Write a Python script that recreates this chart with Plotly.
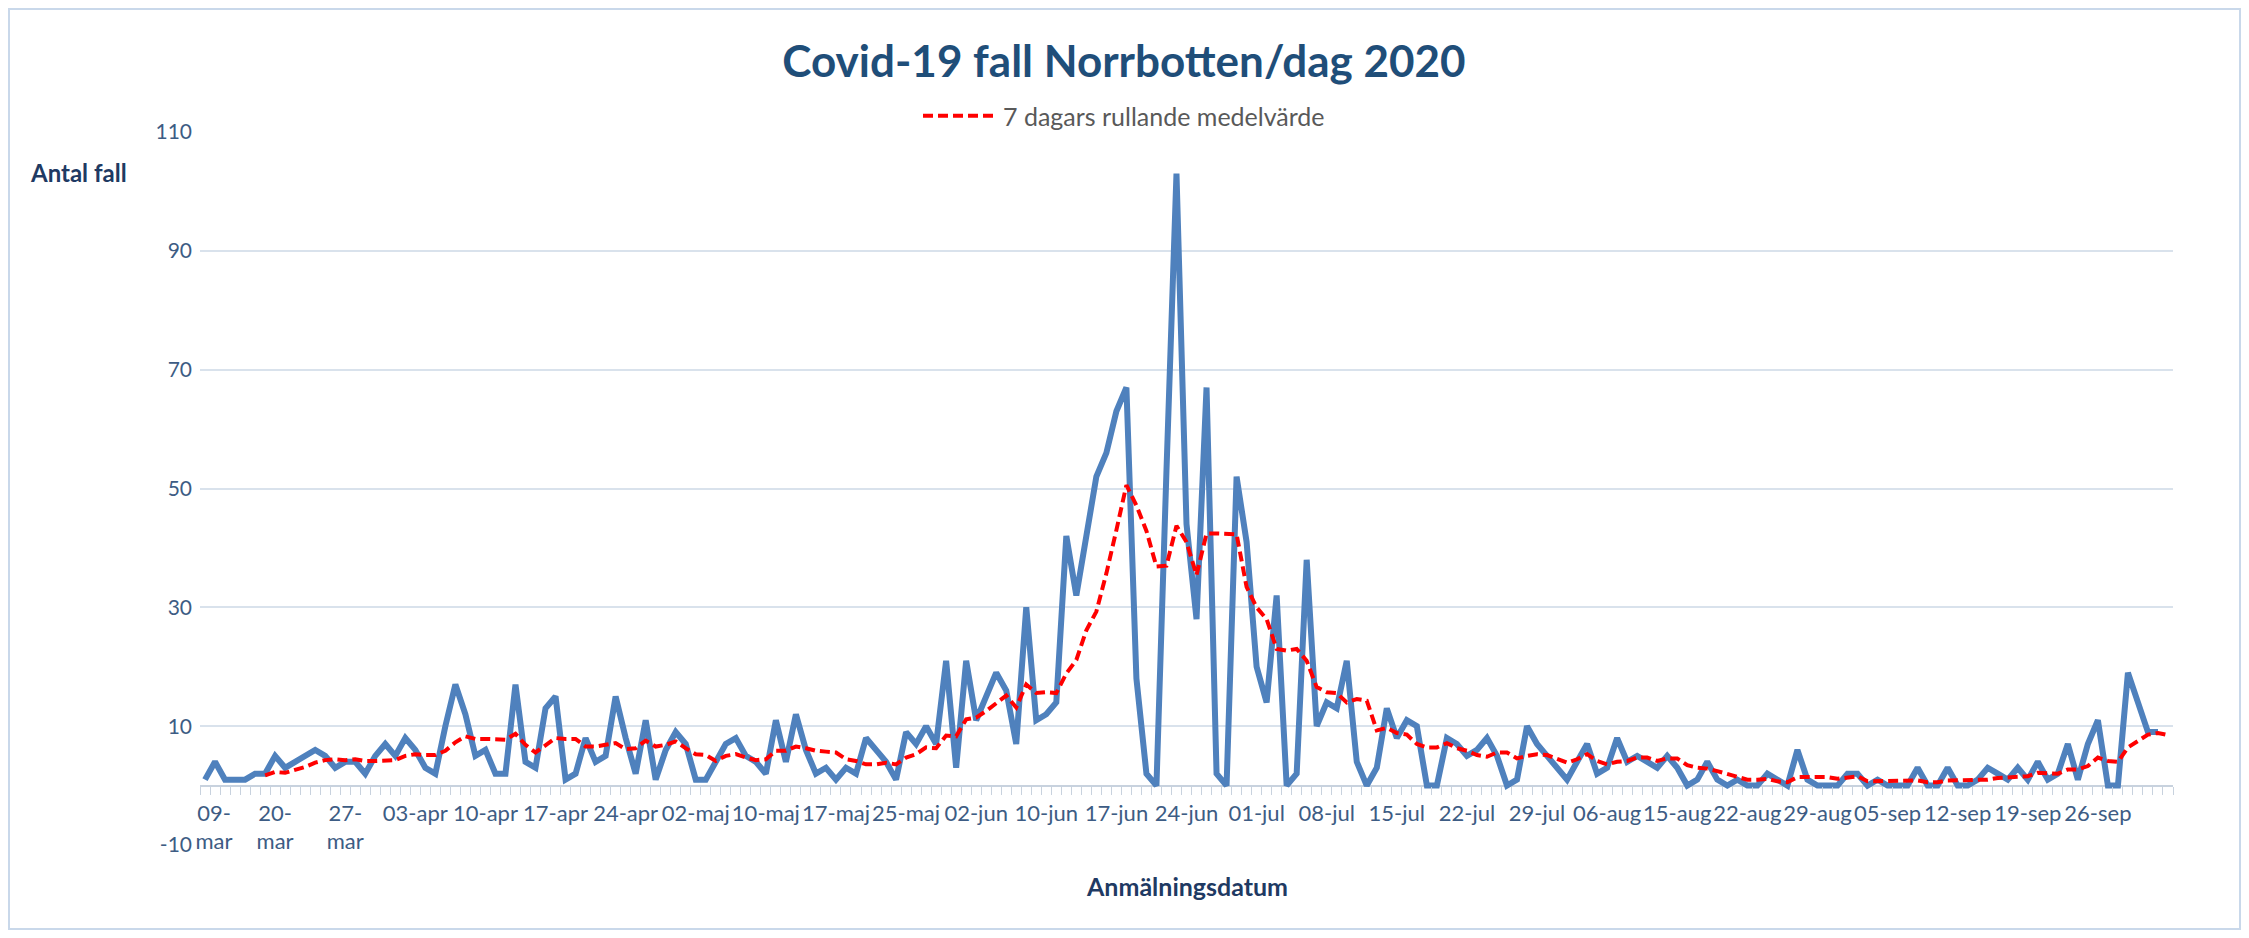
import plotly.graph_objects as go
import pandas as pd

# The page body adds an 8 px margin, so the figure is drawn 8 px in from the
# window edge; everything below is laid out in window pixels minus that offset.
PAGE_W, PAGE_H = 2249, 938
OFF = 8
W, H = PAGE_W - 2 * OFF, PAGE_H - 2 * OFF

# Daily reported cases (Norrbotten); the last date is blank
cases = [
    1, 4, 1, 1, 1, 2, 2, 5, 3, 4,
    5, 6, 5, 3, 4, 4, 2, 5, 7, 5,
    8, 6, 3, 2, 10, 17, 12, 5, 6, 2,
    2, 17, 4, 3, 13, 15, 1, 2, 8, 4,
    5, 15, 8, 2, 11, 1, 6, 9, 7, 1,
    1, 4, 7, 8, 5, 4, 2, 11, 4, 12,
    6, 2, 3, 1, 3, 2, 8, 6, 4, 1,
    9, 7, 10, 7, 21, 3, 21, 11, 15, 19,
    16, 7, 30, 11, 12, 14, 42, 32, 42, 52,
    56, 63, 67, 18, 2, 0, 53, 103, 44, 28,
    67, 2, 0, 52, 41, 20, 14, 32, 0, 2,
    38, 10, 14, 13, 21, 4, 0, 3, 13, 8,
    11, 10, 0, 0, 8, 7, 5, 6, 8, 5,
    0, 1, 10, 7, 5, 3, 1, 4, 7, 2,
    3, 8, 4, 5, 4, 3, 5, 3, 0, 1,
    4, 1, 0, 1, 0, 0, 2, 1, 0, 6,
    1, 0, 0, 0, 2, 2, 0, 1, 0, 0,
    0, 3, 0, 0, 3, 0, 0, 1, 3, 2,
    1, 3, 1, 4, 1, 2, 7, 1, 7, 11,
    0, 0, 19, 14, 9, 9, None,
]

# Category-axis labels (one label per 7 categories, as in the original)
tick_labels = [
    "09-<br>mar", "20-<br>mar", "27-<br>mar", "03-apr", "10-apr", "17-apr", "24-apr",
    "02-maj", "10-maj", "17-maj", "25-maj", "02-jun", "10-jun", "17-jun",
    "24-jun", "01-jul", "08-jul", "15-jul", "22-jul", "29-jul", "06-aug",
    "15-aug", "22-aug", "29-aug", "05-sep", "12-sep", "19-sep", "26-sep",
]
label_step = 7
ma_window = 7

title_text = "Covid-19 fall Norrbotten/dag 2020"
ma_name = "7 dagars rullande medelvärde"
y_title = "Antal fall"
x_title = "Anmälningsdatum"

y_min, y_max, y_step = -10, 110, 20
y_ticks = list(range(y_min, y_max + 1, y_step))

n = len(cases)
x = list(range(n))
s = pd.Series(cases, dtype=float)
ma = s.rolling(ma_window, min_periods=1).mean()   # blanks ignored, like AVERAGE
ma.iloc[:ma_window - 1] = float("nan")

# label positions; like the original, the first (wrapped) label is nudged
# right so it clears the "-10" axis label
tick_pos = [float(v) for v in range(0, n, label_step)][:len(tick_labels)]
tick_pos[0] += 0.9

# plot area in window pixels
P_LEFT, P_RIGHT, P_TOP, P_BOTTOM = 200, 2173, 132, 845
ML = P_LEFT - OFF
MR = W - (P_RIGHT - OFF)
MT = P_TOP - OFF
MB = H - (P_BOTTOM - OFF)
PW = W - ML - MR
PH = H - MT - MB


def paper_x(px):
    return (px - OFF - ML) / PW


def paper_y(py):
    return (H - MB - (py - OFF)) / PH


def cont_y(py):
    return 1 - (py - OFF) / H


FONT = "Lato, Open Sans, sans-serif"
TICK_COLOR = "#3D5C84"
DARK = "#1F3A63"

fig = go.Figure()
fig.add_trace(go.Scatter(
    x=x, y=cases, mode="lines", name="Antal fall",
    line=dict(color="#4F81BD", width=6),
    showlegend=False, connectgaps=False,
))
fig.add_trace(go.Scatter(
    x=x, y=ma, mode="lines", name=ma_name,
    line=dict(color="#FF0000", width=4, dash="10px,5px"),
))

fig.update_layout(
    width=W, height=H,
    margin=dict(l=ML, r=MR, t=MT, b=MB, autoexpand=False),
    paper_bgcolor="white", plot_bgcolor="white",
    title=dict(
        text=f"<b>{title_text}</b>", x=(1124 - OFF) / W, xref="container",
        xanchor="center", y=cont_y(62), yref="container", yanchor="middle",
        font=dict(family=FONT, size=44, color="#1F4E79"),
    ),
    legend=dict(
        orientation="h", x=(1124 - OFF) / W, xref="container", xanchor="center",
        y=cont_y(116), yref="container", yanchor="middle",
        font=dict(family=FONT, size=25, color="#595959"),
        bgcolor="rgba(0,0,0,0)", itemwidth=75,
    ),
    xaxis=dict(
        range=[-0.5, n - 0.5],
        tickmode="array",
        tickvals=tick_pos,
        ticktext=tick_labels,
        tickangle=0, ticks="", showgrid=False, zeroline=False, showline=False,
        anchor="free", position=(0 - y_min) / (y_max - y_min),
        tickfont=dict(family=FONT, size=22, color=TICK_COLOR),
        ticklabelstandoff=12,
        minor=dict(dtick=1, tick0=-0.5, ticks="outside", ticklen=8,
                   tickcolor="#C8D2DE", tickwidth=1, showgrid=False),
    ),
    yaxis=dict(
        range=[y_min, y_max], tickmode="array", tickvals=y_ticks,
        ticktext=[str(v) for v in y_ticks],
        showgrid=True, gridcolor="#D9E2EC", gridwidth=1.5,
        zeroline=True, zerolinecolor="#C8D2DE", zerolinewidth=1.5,
        ticks="", showline=False,
        tickfont=dict(family=FONT, size=21, color=TICK_COLOR),
        ticklabelstandoff=7,
    ),
    annotations=[
        dict(text=f"<b>{y_title}</b>", xref="paper", yref="paper",
             x=paper_x(28), y=paper_y(172), xanchor="left", yanchor="middle",
             showarrow=False, font=dict(family=FONT, size=24, color=DARK)),
        dict(text=f"<b>{x_title}</b>", xref="paper", yref="paper",
             x=0.5, y=paper_y(886), xanchor="center", yanchor="middle",
             showarrow=False, font=dict(family=FONT, size=25, color=DARK)),
    ],
    shapes=[
        dict(type="rect", xref="paper", yref="paper",
             x0=paper_x(OFF + 1), x1=paper_x(2240), y0=paper_y(PAGE_H - OFF - 1),
             y1=paper_y(OFF + 1),
             line=dict(color="#C9D8EA", width=2), fillcolor="rgba(0,0,0,0)",
             layer="below"),
    ],
)

fig.write_html("out.html")
